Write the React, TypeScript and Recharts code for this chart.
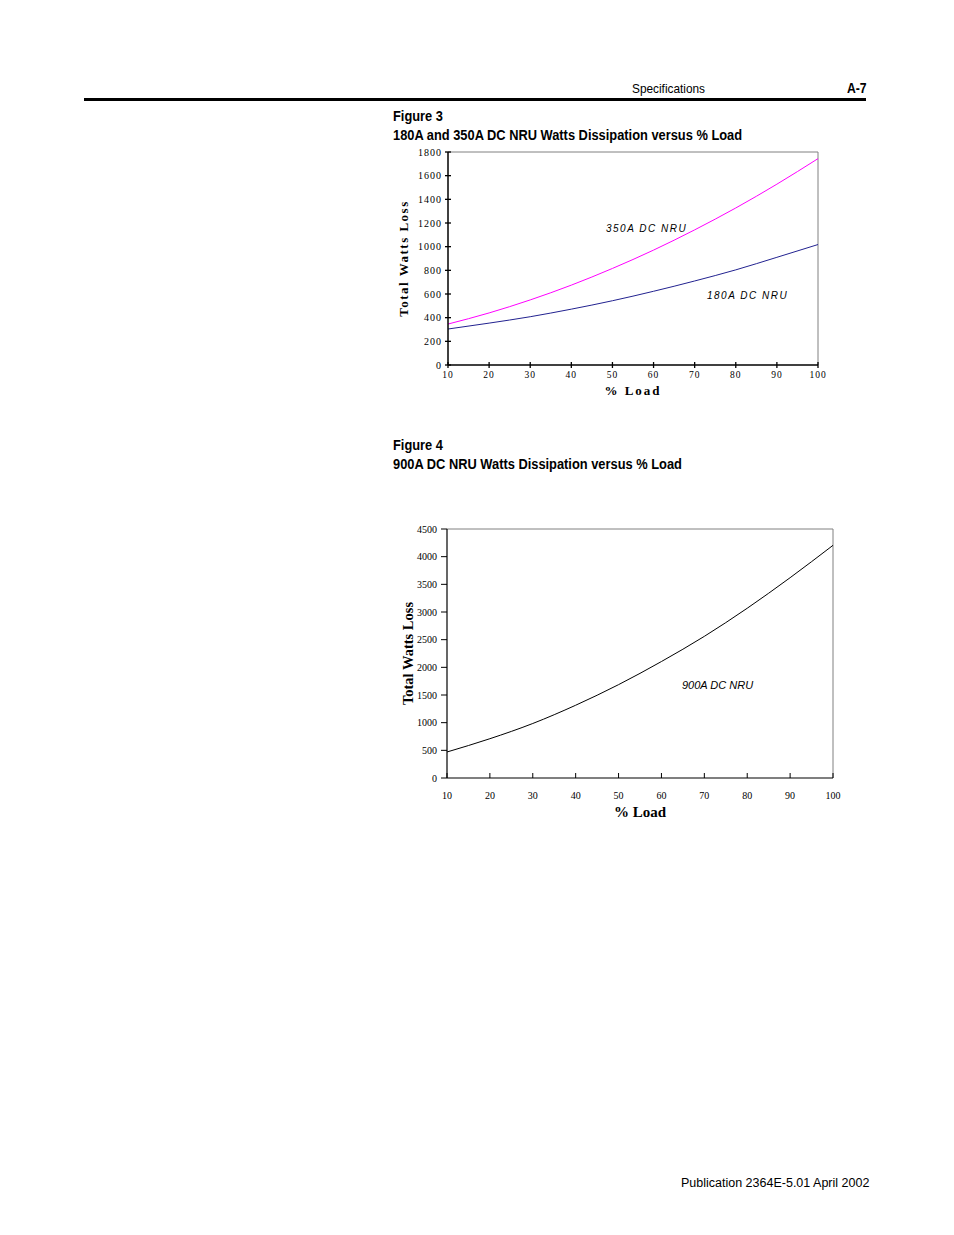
import React from 'react'
import { LineChart, Line, XAxis, YAxis, ReferenceLine, Label } from 'recharts'

// % load points shared by both figures
const loadPct = [10, 20, 30, 40, 50, 60, 70, 80, 90, 100]

// Figure 3 series (watts)
const watts350 = [346, 440, 550, 675, 816, 971, 1142, 1327, 1528, 1744]
const watts180 = [304, 354, 408, 472, 543, 623, 710, 804, 910, 1018]

// Figure 4 series (watts)
const watts900 = [470, 710, 985, 1315, 1687, 2105, 2560, 3068, 3620, 4205]

const fig3YTicks = [0, 200, 400, 600, 800, 1000, 1200, 1400, 1600, 1800]
const fig4YTicks = [0, 500, 1000, 1500, 2000, 2500, 3000, 3500, 4000, 4500]

const SERIF = "'Liberation Serif', 'Times New Roman', serif"
const SANS = "'Liberation Sans', Arial, sans-serif"

const fig3Data = loadPct.map((load, i) => ({ load, w180: watts180[i], w350: watts350[i] }))
const fig4Data = loadPct.map((load, i) => ({ load, w900: watts900[i] }))

const Fig3XTick = ({ x, y, payload }: any) => (
  <g>
    <line x1={x} x2={x} y1={y - 3} y2={y + 3} stroke="#000" strokeWidth={1.3} />
    <text x={x} y={y + 13} textAnchor="middle" fontFamily={SERIF} fontSize={9.5} style={{ letterSpacing: 1 }} fill="#000">
      {payload.value}
    </text>
  </g>
)

const Fig3YTick = ({ x, y, payload }: any) => (
  <g>
    <line x1={x - 3} x2={x + 3} y1={y} y2={y} stroke="#000" strokeWidth={1.3} />
    <text x={x - 6} y={y + 3.5} textAnchor="end" fontFamily={SERIF} fontSize={10} style={{ letterSpacing: 1 }} fill="#000">
      {payload.value}
    </text>
  </g>
)

const Fig4XTick = ({ x, y, payload }: any) => (
  <g>
    <line x1={x} x2={x} y1={y - 5} y2={y} stroke="#000" />
    <text x={x} y={y + 20.5} textAnchor="middle" fontFamily={SERIF} fontSize={10} fill="#000">
      {payload.value}
    </text>
  </g>
)

const Fig4YTick = ({ x, y, payload }: any) => (
  <g>
    <line x1={x - 6} x2={x} y1={y} y2={y} stroke="#000" />
    <text x={x - 10} y={y + 3.5} textAnchor="end" fontFamily={SERIF} fontSize={10} fill="#000">
      {payload.value}
    </text>
  </g>
)

const yTitle = (dx: number, size: number, spacing: number) => (p: any) => {
  const vb = p.viewBox
  const cx = vb.x + dx
  const cy = vb.y + vb.height / 2
  return (
    <text
      x={cx}
      y={cy}
      transform={`rotate(-90 ${cx} ${cy})`}
      textAnchor="middle"
      dominantBaseline="central"
      fontFamily={SERIF}
      fontWeight="bold"
      fontSize={size}
      style={{ letterSpacing: spacing }}
      fill="#000"
    >
      Total Watts Loss
    </text>
  )
}

const xTitle = (dy: number, size: number, spacing: number) => (p: any) => {
  const vb = p.viewBox
  return (
    <text
      x={vb.x + vb.width / 2}
      y={vb.y + dy}
      textAnchor="middle"
      dominantBaseline="central"
      fontFamily={SERIF}
      fontWeight="bold"
      fontSize={size}
      style={{ letterSpacing: spacing }}
      fill="#000"
    >
      % Load
    </text>
  )
}

const abs = (left: number, top: number, extra: React.CSSProperties = {}): React.CSSProperties => ({
  position: 'absolute',
  left,
  top,
  whiteSpace: 'nowrap',
  lineHeight: 1,
  ...extra,
})

// condensed look: no narrow font installed, so squeeze Liberation Sans
const narrow = (size: number, sx: number, bold = false): React.CSSProperties => ({
  fontFamily: SANS,
  fontSize: size,
  fontWeight: bold ? 'bold' : 'normal',
  transform: `scaleX(${sx})`,
  transformOrigin: 'left center',
})

export default function App() {
  return (
    <div style={{ position: 'absolute', left: 0, top: 0, width: 954, height: 1235, background: '#fff', color: '#000' }}>
      {/* page header */}
      <div style={abs(632, 82, narrow(13, 0.91))}>Specifications</div>
      <div style={abs(847, 81, narrow(14, 0.87, true))}>A-7</div>
      <div style={{ position: 'absolute', left: 84, top: 98, width: 782, height: 2.5, background: '#000' }} />

      {/* Figure 3 */}
      <div style={abs(393, 109, narrow(14.5, 0.886, true))}>Figure 3</div>
      <div style={abs(393, 128, narrow(14.5, 0.886, true))}>
        180A and 350A DC NRU Watts Dissipation versus % Load
      </div>
      <div style={{ position: 'absolute', left: 380, top: 140 }}>
        <LineChart width={460} height={270} data={fig3Data} margin={{ top: 12, right: 22, left: 0, bottom: 0 }}>
          <XAxis
            dataKey="load"
            type="number"
            domain={[10, 100]}
            ticks={loadPct}
            interval={0}
            height={45}
            tickSize={0}
            tickMargin={0}
            tickLine={false}
            axisLine={{ stroke: '#000', strokeWidth: 1.5 }}
            tick={<Fig3XTick />}
          >
            <Label content={xTitle(25, 13, 2)} />
          </XAxis>
          <YAxis
            type="number"
            domain={[0, 1800]}
            ticks={fig3YTicks}
            interval={0}
            width={68}
            tickSize={0}
            tickMargin={0}
            tickLine={false}
            axisLine={{ stroke: '#000', strokeWidth: 1.5 }}
            tick={<Fig3YTick />}
          >
            <Label content={yTitle(23, 13, 1.5)} />
          </YAxis>
          <ReferenceLine y={1800} stroke="#808080" strokeWidth={1} />
          <ReferenceLine x={100} stroke="#808080" strokeWidth={1} />
          <Line type="monotone" dataKey="w350" stroke="#ff00ff" strokeWidth={1} dot={false} isAnimationActive={false} />
          <Line type="monotone" dataKey="w180" stroke="#222290" strokeWidth={1} dot={false} isAnimationActive={false} />
        </LineChart>
      </div>
      <div style={abs(606, 224, { fontFamily: SANS, fontSize: 10, fontStyle: 'italic', letterSpacing: 1.5 })}>350A DC NRU</div>
      <div style={abs(707, 291, { fontFamily: SANS, fontSize: 10, fontStyle: 'italic', letterSpacing: 1.5 })}>180A DC NRU</div>

      {/* Figure 4 */}
      <div style={abs(393, 438, narrow(14.5, 0.886, true))}>Figure 4</div>
      <div style={abs(393, 457, narrow(14.5, 0.886, true))}>
        900A DC NRU Watts Dissipation versus % Load
      </div>
      <div style={{ position: 'absolute', left: 380, top: 515 }}>
        <LineChart width={470} height={310} data={fig4Data} margin={{ top: 14, right: 17, left: 0, bottom: 0 }}>
          <XAxis
            dataKey="load"
            type="number"
            domain={[10, 100]}
            ticks={loadPct}
            interval={0}
            height={47}
            tickSize={0}
            tickMargin={0}
            tickLine={false}
            axisLine={{ stroke: '#000', strokeWidth: 1.2 }}
            tick={<Fig4XTick />}
          >
            <Label content={xTitle(34, 15, 0)} />
          </XAxis>
          <YAxis
            type="number"
            domain={[0, 4500]}
            ticks={fig4YTicks}
            interval={0}
            width={67}
            tickSize={0}
            tickMargin={0}
            tickLine={false}
            axisLine={{ stroke: '#000', strokeWidth: 1.2 }}
            tick={<Fig4YTick />}
          >
            <Label content={yTitle(28, 14.5, 0)} />
          </YAxis>
          <ReferenceLine y={4500} stroke="#808080" strokeWidth={1} />
          <ReferenceLine x={100} stroke="#808080" strokeWidth={1} />
          <Line type="monotone" dataKey="w900" stroke="#000" strokeWidth={1} dot={false} isAnimationActive={false} />
        </LineChart>
      </div>
      <div style={abs(682, 680, { fontFamily: SANS, fontSize: 11, fontStyle: 'italic' })}>900A DC NRU</div>

      {/* footer */}
      <div style={abs(681, 1177, { fontFamily: SANS, fontSize: 12.5 })}>Publication 2364E-5.01 April 2002</div>
    </div>
  )
}
